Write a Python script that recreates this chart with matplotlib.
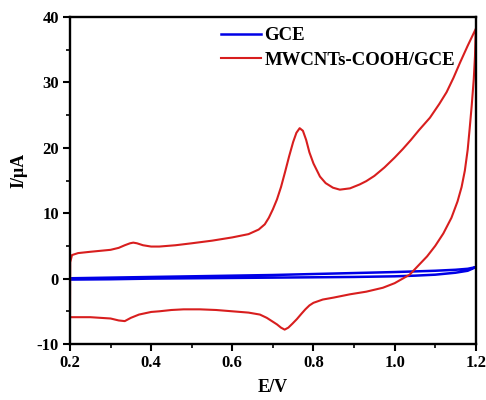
import matplotlib
matplotlib.use("Agg")
import matplotlib.pyplot as plt
from matplotlib.ticker import MultipleLocator

plt.rcParams['font.family'] = ['Liberation Serif', 'DejaVu Serif']
plt.rcParams['font.weight'] = 'bold'
plt.rcParams['axes.unicode_minus'] = False

# MWCNTs-COOH/GCE, anodic sweep
red_fwd_E = [0.2, 0.2005, 0.205, 0.22, 0.25, 0.3, 0.32, 0.335, 0.348, 0.356, 0.365, 0.38,
             0.40, 0.42, 0.46, 0.5, 0.55, 0.6, 0.64, 0.665, 0.68, 0.69, 0.70, 0.71, 0.72,
             0.73, 0.74, 0.75, 0.758, 0.766, 0.774, 0.782, 0.79, 0.80, 0.816, 0.83, 0.848,
             0.865, 0.89, 0.914, 0.93, 0.95, 0.975, 1.0, 1.02, 1.04, 1.06, 1.087, 1.11,
             1.128, 1.145, 1.161, 1.18, 1.2]
red_fwd_I = [-5.9, 2.5, 3.6, 3.9, 4.1, 4.4, 4.7, 5.1, 5.4, 5.5, 5.4, 5.1,
             4.9, 4.9, 5.1, 5.4, 5.8, 6.3, 6.8, 7.5, 8.3, 9.3, 10.6, 12.1, 14.0,
             16.3, 18.7, 20.9, 22.3, 23.0, 22.6, 21.2, 19.3, 17.6, 15.6, 14.6, 13.9,
             13.6, 13.8, 14.4, 14.9, 15.7, 17.0, 18.5, 19.8, 21.2, 22.7, 24.6, 26.7,
             28.5, 30.7, 33.0, 35.6, 38.2]

# MWCNTs-COOH/GCE, cathodic sweep
red_rev_E = [1.2, 1.198, 1.195, 1.19, 1.185, 1.18, 1.173, 1.165, 1.155, 1.14, 1.12, 1.1,
             1.08, 1.06, 1.037, 1.0, 0.971, 0.93, 0.89, 0.85, 0.823, 0.8, 0.79, 0.78,
             0.77, 0.759, 0.748, 0.738, 0.729, 0.72, 0.71, 0.70, 0.685, 0.668, 0.64, 0.6,
             0.56, 0.52, 0.48, 0.45, 0.42, 0.4, 0.37, 0.35, 0.335, 0.32, 0.3, 0.25, 0.2]
red_rev_I = [38.2, 34.0, 30.5, 26.5, 23.0, 19.7, 16.5, 14.0, 11.8, 9.3, 6.9, 5.0,
             3.4, 2.1, 0.6, -0.7, -1.4, -2.0, -2.4, -2.9, -3.2, -3.7, -4.1, -4.7,
             -5.4, -6.2, -6.9, -7.5, -7.8, -7.5, -7.0, -6.6, -6.0, -5.5, -5.2, -5.0,
             -4.8, -4.7, -4.7, -4.8, -5.0, -5.1, -5.5, -6.0, -6.5, -6.4, -6.1, -5.9, -5.9]

# bare GCE loop
blue_E = [0.2, 0.3, 0.4, 0.5, 0.6, 0.7, 0.8, 0.9, 1.0, 1.05, 1.1, 1.15, 1.18, 1.2,
          1.18, 1.15, 1.1, 1.05, 1.0, 0.9, 0.8, 0.7, 0.6, 0.5, 0.4, 0.3, 0.2]
blue_I = [0.05, 0.15, 0.25, 0.35, 0.45, 0.55, 0.7, 0.85, 1.0, 1.1, 1.2, 1.35, 1.5, 1.75,
          1.2, 0.9, 0.6, 0.45, 0.35, 0.25, 0.2, 0.15, 0.1, 0.05, 0.0, -0.1, -0.15]

fig = plt.figure(figsize=(4.86, 4.0), dpi=100)
ax = fig.add_axes([0.144, 0.14, 0.835, 0.8175])

ax.plot(blue_E, blue_I, color='#0000e6', lw=1.8, label='GCE')
ax.plot(red_fwd_E + red_rev_E, red_fwd_I + red_rev_I, color='#d81e1e', lw=1.5,
        label='MWCNTs-COOH/GCE')

ax.set_xlim(0.2, 1.2)
ax.set_ylim(-10, 40)
ax.xaxis.set_minor_locator(MultipleLocator(0.1))
ax.yaxis.set_major_locator(MultipleLocator(10))
ax.yaxis.set_minor_locator(MultipleLocator(5))
ax.set_xticks([0.2, 0.4, 0.6, 0.8, 1.0, 1.2], labels=['0.2', '0.4', '0.6', '0.8', '1.0', '1.2'])
ax.tick_params(which='major', direction='out', length=5, width=1.5, labelsize=12, pad=3)
ax.tick_params(which='minor', direction='out', length=3, width=1.2)
for sp in ax.spines.values():
    sp.set_linewidth(1.7)

ax.set_xlabel('E/V', fontsize=13, fontweight='bold', labelpad=6)
ax.set_ylabel('I/μA', fontsize=13, fontweight='bold')
ax.yaxis.set_label_coords(-0.105, 0.53)

leg = ax.legend(loc='upper left', bbox_to_anchor=(0.455, 0.932), bbox_transform=fig.transFigure,
                frameon=False, fontsize=13.5, handlelength=2.1, handletextpad=0.2,
                borderpad=0, borderaxespad=0, labelspacing=0.4)
for t in leg.get_texts():
    t.set_fontweight('bold')

fig.savefig('out.png', dpi=100)
